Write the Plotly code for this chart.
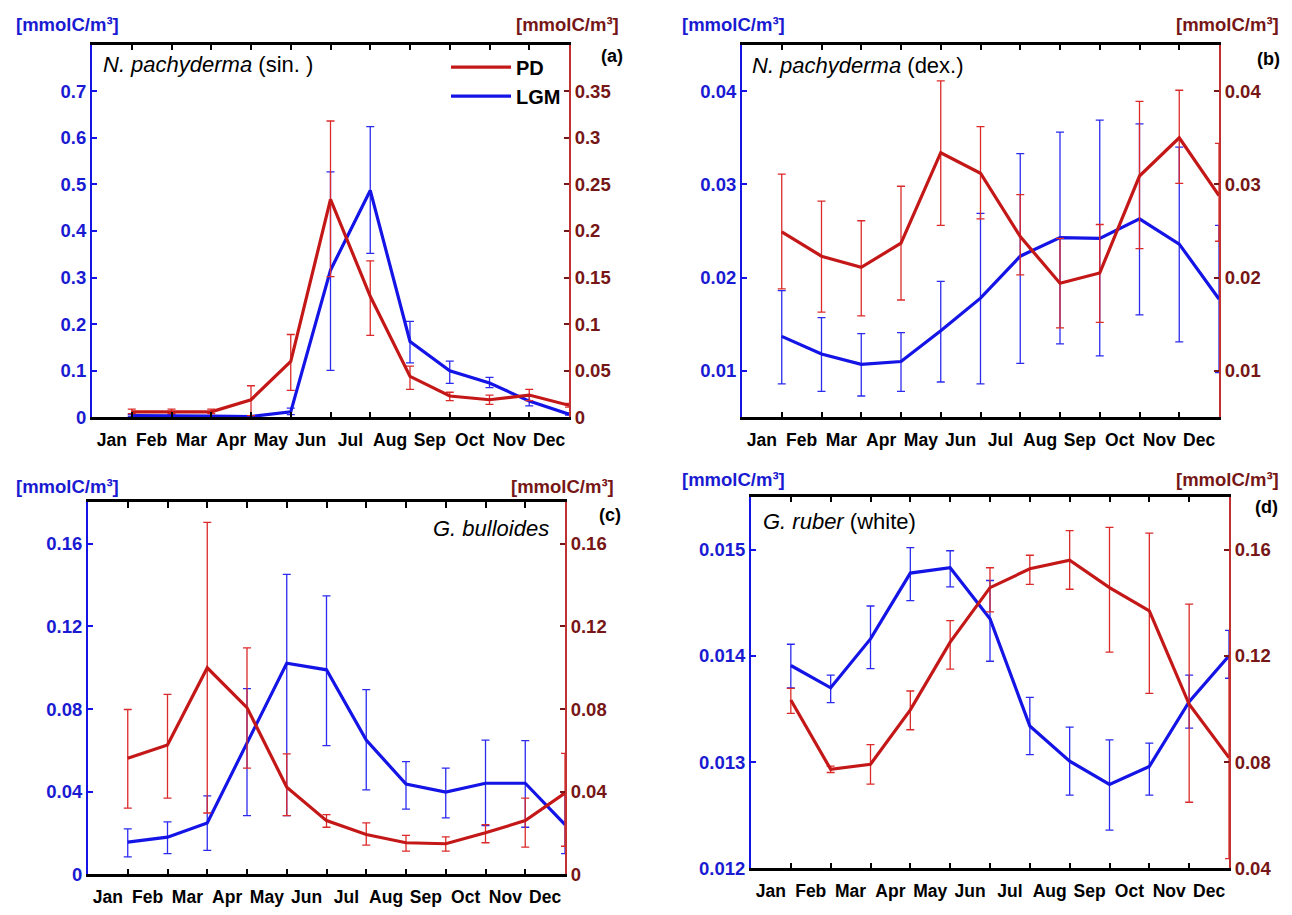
import plotly.graph_objects as go

# ---------------- data ----------------
MONTHS = ["Jan", "Feb", "Mar", "Apr", "May", "Jun", "Jul", "Aug", "Sep", "Oct", "Nov", "Dec"]
MONTH_IDX = [1, 2, 3, 4, 5, 6, 7, 8, 9, 10, 11, 12]
LABEL_POS = [0.5, 1.5, 2.5, 3.5, 4.5, 5.5, 6.5, 7.5, 8.5, 9.5, 10.5, 11.5]
TICK_POS = [1, 2, 3, 4, 5, 6, 7, 8, 9, 10, 11]

# (a) N. pachyderma (sin.)  -- LGM on left axis, PD on right axis
A_LGM = [0.004, 0.004, 0.003, 0.002, 0.012, 0.316, 0.487, 0.163, 0.100, 0.074, 0.035, 0.007]
A_LGM_HI = [0.006, 0.006, 0.004, 0.003, 0.020, 0.527, 0.624, 0.206, 0.121, 0.086, 0.046, 0.009]
A_LGM_LO = [0.002, 0.002, 0.002, 0.001, 0.006, 0.101, 0.352, 0.117, 0.073, 0.064, 0.025, 0.005]
A_PD = [0.006, 0.006, 0.006, 0.019, 0.060, 0.234, 0.130, 0.044, 0.023, 0.019, 0.024, 0.013]
A_PD_HI = [0.009, 0.009, 0.009, 0.034, 0.089, 0.318, 0.168, 0.055, 0.027, 0.024, 0.030, 0.015]
A_PD_LO = [0.004, 0.004, 0.004, 0.002, 0.029, 0.151, 0.088, 0.030, 0.018, 0.014, 0.018, 0.011]

# (b) N. pachyderma (dex.)
B_LGM = [0.0137, 0.0118, 0.0107, 0.0110, 0.0143, 0.0178, 0.0223, 0.0243, 0.0242, 0.0263, 0.0236, 0.0177]
B_LGM_HI = [0.0186, 0.0157, 0.0140, 0.0141, 0.0196, 0.0269, 0.0333, 0.0356, 0.0369, 0.0365, 0.0340, 0.0256]
B_LGM_LO = [0.0086, 0.0078, 0.0073, 0.0078, 0.0088, 0.0086, 0.0108, 0.0129, 0.0116, 0.0160, 0.0131, 0.0098]
B_PD = [0.0249, 0.0223, 0.0211, 0.0237, 0.0334, 0.0312, 0.0244, 0.0194, 0.0205, 0.0309, 0.0350, 0.0288]
B_PD_HI = [0.0311, 0.0282, 0.0261, 0.0298, 0.0411, 0.0362, 0.0289, 0.0242, 0.0257, 0.0389, 0.0401, 0.0344]
B_PD_LO = [0.0188, 0.0163, 0.0159, 0.0176, 0.0256, 0.0263, 0.0203, 0.0146, 0.0152, 0.0231, 0.0301, 0.0239]

# (c) G. bulloides
C_LGM = [0.0156, 0.0180, 0.0249, 0.0634, 0.1022, 0.0990, 0.0650, 0.0437, 0.0398, 0.0441, 0.0441, 0.0241]
C_LGM_HI = [0.0220, 0.0254, 0.0380, 0.0899, 0.1452, 0.1348, 0.0894, 0.0546, 0.0514, 0.0650, 0.0647, 0.0390]
C_LGM_LO = [0.0085, 0.0100, 0.0116, 0.0284, 0.0284, 0.0623, 0.0409, 0.0316, 0.0273, 0.0236, 0.0228, 0.0100]
C_PD = [0.0562, 0.0626, 0.1000, 0.0807, 0.0422, 0.0260, 0.0193, 0.0153, 0.0148, 0.0201, 0.0260, 0.0393]
C_PD_HI = [0.0798, 0.0871, 0.1704, 0.1096, 0.0583, 0.0289, 0.0249, 0.0189, 0.0181, 0.0241, 0.0369, 0.0586]
C_PD_LO = [0.0321, 0.0369, 0.0297, 0.0514, 0.0284, 0.0228, 0.0141, 0.0112, 0.0112, 0.0153, 0.0132, 0.0136]

# (d) G. ruber (white)
D_LGM = [0.01391, 0.01370, 0.01416, 0.01478, 0.01483, 0.01435, 0.01334, 0.01301, 0.01279, 0.01296, 0.01357, 0.01400]
D_LGM_HI = [0.01411, 0.01382, 0.01447, 0.01502, 0.01499, 0.01471, 0.01361, 0.01333, 0.01321, 0.01318, 0.01382, 0.01424]
D_LGM_LO = [0.01370, 0.01356, 0.01388, 0.01452, 0.01465, 0.01395, 0.01307, 0.01269, 0.01236, 0.01269, 0.01332, 0.01379]
D_PD = [0.1034, 0.0773, 0.0792, 0.0997, 0.1252, 0.1457, 0.1528, 0.1560, 0.1457, 0.1370, 0.1018, 0.0817]
D_PD_HI = [0.1078, 0.0785, 0.0866, 0.1068, 0.1333, 0.1532, 0.1579, 0.1672, 0.1684, 0.1662, 0.1395, 0.1200]
D_PD_LO = [0.0984, 0.0761, 0.0717, 0.0922, 0.1150, 0.1366, 0.1469, 0.1451, 0.1214, 0.1059, 0.0649, 0.0437]

A_LEFT_TICKS = [0, 0.1, 0.2, 0.3, 0.4, 0.5, 0.6, 0.7]
A_LEFT_TEXT = ["0", "0.1", "0.2", "0.3", "0.4", "0.5", "0.6", "0.7"]
A_RIGHT_TICKS = [0, 0.05, 0.1, 0.15, 0.2, 0.25, 0.3, 0.35]
A_RIGHT_TEXT = ["0", "0.05", "0.1", "0.15", "0.2", "0.25", "0.3", "0.35"]
B_TICKS = [0.01, 0.02, 0.03, 0.04]
B_TEXT = ["0.01", "0.02", "0.03", "0.04"]
C_TICKS = [0, 0.04, 0.08, 0.12, 0.16]
C_TEXT = ["0", "0.04", "0.08", "0.12", "0.16"]
D_LEFT_TICKS = [0.012, 0.013, 0.014, 0.015]
D_LEFT_TEXT = ["0.012", "0.013", "0.014", "0.015"]
D_RIGHT_TICKS = [0.04, 0.08, 0.12, 0.16]
D_RIGHT_TEXT = ["0.04", "0.08", "0.12", "0.16"]

# ---------------- styling ----------------
PAGE_MARGIN = 8          # default <body> margin of the written html page
W, H = 1292 - PAGE_MARGIN, 915 - PAGE_MARGIN
FONT = "Liberation Sans"
BLUE = "#1414e6"
BLUE_ERR = "#2b2bf0"
BLUE_TXT = "#1a1ad2"
RED = "#c41818"
RED_ERR = "#dc2a2a"
RED_AX = "#c23030"
RED_TXT = "#761616"


def px_x(p):
    return (p - PAGE_MARGIN) / W


def px_y(p):
    return 1 - (p - PAGE_MARGIN) / H


PANELS = [
    dict(k=1, x=(92, 569), y=(45, 422), lr=[0, 0.8], rr=[0, 0.4],
         lt=A_LEFT_TICKS, ltt=A_LEFT_TEXT, rt=A_RIGHT_TICKS, rtt=A_RIGHT_TEXT,
         lgm=(A_LGM, A_LGM_HI, A_LGM_LO), pd=(A_PD, A_PD_HI, A_PD_LO)),
    dict(k=2, x=(742, 1219), y=(45, 422), lr=[0.005, 0.045], rr=[0.005, 0.045],
         lt=B_TICKS, ltt=B_TEXT, rt=B_TICKS, rtt=B_TEXT,
         lgm=(B_LGM, B_LGM_HI, B_LGM_LO), pd=(B_PD, B_PD_HI, B_PD_LO)),
    dict(k=3, x=(88, 565), y=(508, 884), lr=[0, 0.18], rr=[0, 0.18],
         lt=C_TICKS, ltt=C_TEXT, rt=C_TICKS, rtt=C_TEXT,
         lgm=(C_LGM, C_LGM_HI, C_LGM_LO), pd=(C_PD, C_PD_HI, C_PD_LO)),
    dict(k=4, x=(751, 1229), y=(502, 878), lr=[0.012, 0.0155], rr=[0.04, 0.18],
         lt=D_LEFT_TICKS, ltt=D_LEFT_TEXT, rt=D_RIGHT_TICKS, rtt=D_RIGHT_TEXT,
         lgm=(D_LGM, D_LGM_HI, D_LGM_LO), pd=(D_PD, D_PD_HI, D_PD_LO)),
]

fig = go.Figure()
layout = {}

for p in PANELS:
    k = p["k"]
    xs = "" if k == 1 else str(k)
    xname, yname = "x" + xs, "y" + xs
    yright = "y" + str(k + 4)
    xd = [px_x(p["x"][0]), px_x(p["x"][1])]
    yd = [px_y(p["y"][1]), px_y(p["y"][0])]

    v, hi, lo = p["lgm"]
    fig.add_trace(go.Scatter(
        x=MONTH_IDX, y=v, xaxis=xname, yaxis=yname, mode="lines", name="LGM",
        line=dict(color=BLUE, width=3.2), showlegend=(k == 1), legendrank=2,
        error_y=dict(type="data", symmetric=False,
                     array=[h - a for h, a in zip(hi, v)],
                     arrayminus=[a - l for a, l in zip(v, lo)],
                     color=BLUE_ERR, thickness=1.3, width=4),
    ))
    v, hi, lo = p["pd"]
    fig.add_trace(go.Scatter(
        x=MONTH_IDX, y=v, xaxis=xname, yaxis=yright, mode="lines", name="PD",
        line=dict(color=RED, width=3.2), showlegend=(k == 1), legendrank=1,
        error_y=dict(type="data", symmetric=False,
                     array=[h - a for h, a in zip(hi, v)],
                     arrayminus=[a - l for a, l in zip(v, lo)],
                     color=RED_ERR, thickness=1.3, width=4),
    ))

    layout["xaxis" + xs] = dict(
        domain=xd, anchor=yname, range=[0, 12],
        tickmode="array", tickvals=LABEL_POS, ticktext=MONTHS, ticks="",
        ticklabelstandoff=5,
        minor=dict(tickmode="array", tickvals=TICK_POS, ticks="inside",
                   ticklen=6, tickwidth=1.5, tickcolor="black", showgrid=False),
        showline=True, linecolor="black", linewidth=2.5, mirror="ticks",
        showgrid=False, zeroline=False,
        tickfont=dict(family=FONT, size=17.5, color="black", weight="bold"),
    )
    layout["yaxis" + xs] = dict(
        domain=yd, anchor=xname, range=p["lr"], side="left",
        tickmode="array", tickvals=p["lt"], ticktext=p["ltt"],
        ticks="inside", ticklen=5, tickwidth=1.5, tickcolor=BLUE,
        showline=True, linecolor=BLUE, linewidth=2,
        showgrid=False, zeroline=False,
        tickfont=dict(family=FONT, size=18.5, color=BLUE_TXT, weight="bold"),
    )
    layout["yaxis" + str(k + 4)] = dict(
        anchor=xname, overlaying=yname, range=p["rr"], side="right",
        tickmode="array", tickvals=p["rt"], ticktext=p["rtt"],
        ticks="inside", ticklen=5, tickwidth=1.5, tickcolor=RED_TXT,
        showline=True, linecolor=RED_AX, linewidth=2,
        showgrid=False, zeroline=False,
        tickfont=dict(family=FONT, size=18.5, color=RED_TXT, weight="bold"),
    )

UNIT = "[mmolC/m³]"
annotations = []


def ann(text, x, y, xanchor="left", color="black", size=14, bold=False):
    annotations.append(dict(
        text=text, x=px_x(x), y=px_y(y), xref="paper", yref="paper",
        xanchor=xanchor, yanchor="middle", showarrow=False,
        font=dict(family=FONT, size=size, color=color, weight="bold" if bold else "normal"),
    ))


# unit labels
ann(UNIT, 14, 25, "left", BLUE_TXT, 18.5, True)
ann(UNIT, 621, 25, "right", RED_TXT, 18.5, True)
ann(UNIT, 680, 25, "left", BLUE_TXT, 18.5, True)
ann(UNIT, 1281, 25, "right", RED_TXT, 18.5, True)
ann(UNIT, 14, 492, "left", BLUE_TXT, 18.5, True)
ann(UNIT, 616, 492, "right", RED_TXT, 18.5, True)
ann(UNIT, 680, 485, "left", BLUE_TXT, 18.5, True)
ann(UNIT, 1281, 485, "right", RED_TXT, 18.5, True)

# panel letters
ann("(a)", 612, 57, "center", "black", 18, True)
ann("(b)", 1268, 60, "center", "black", 18, True)
ann("(c)", 610, 521, "center", "black", 18, True)
ann("(d)", 1266, 513, "center", "black", 18, True)

# species names
ann("<i>N. pachyderma</i> (sin. )", 101, 65, "left", "black", 22)
ann("<i>N. pachyderma</i> (dex.)", 750, 66, "left", "black", 22)
ann("<i>G. bulloides</i>", 551, 534, "right", "black", 22)
ann("<i>G. ruber</i> (white)", 761, 527, "left", "black", 22)

fig.update_layout(
    width=W, height=H,
    margin=dict(l=0, r=0, t=0, b=0),
    paper_bgcolor="white", plot_bgcolor="white",
    showlegend=True,
    legend=dict(x=px_x(446), y=px_y(48), xanchor="left", yanchor="top",
                font=dict(family=FONT, size=20, color="black", weight="bold"),
                bgcolor="rgba(0,0,0,0)", tracegroupgap=0, itemwidth=60),
    annotations=annotations,
    **layout,
)

fig.write_html("out.html")
